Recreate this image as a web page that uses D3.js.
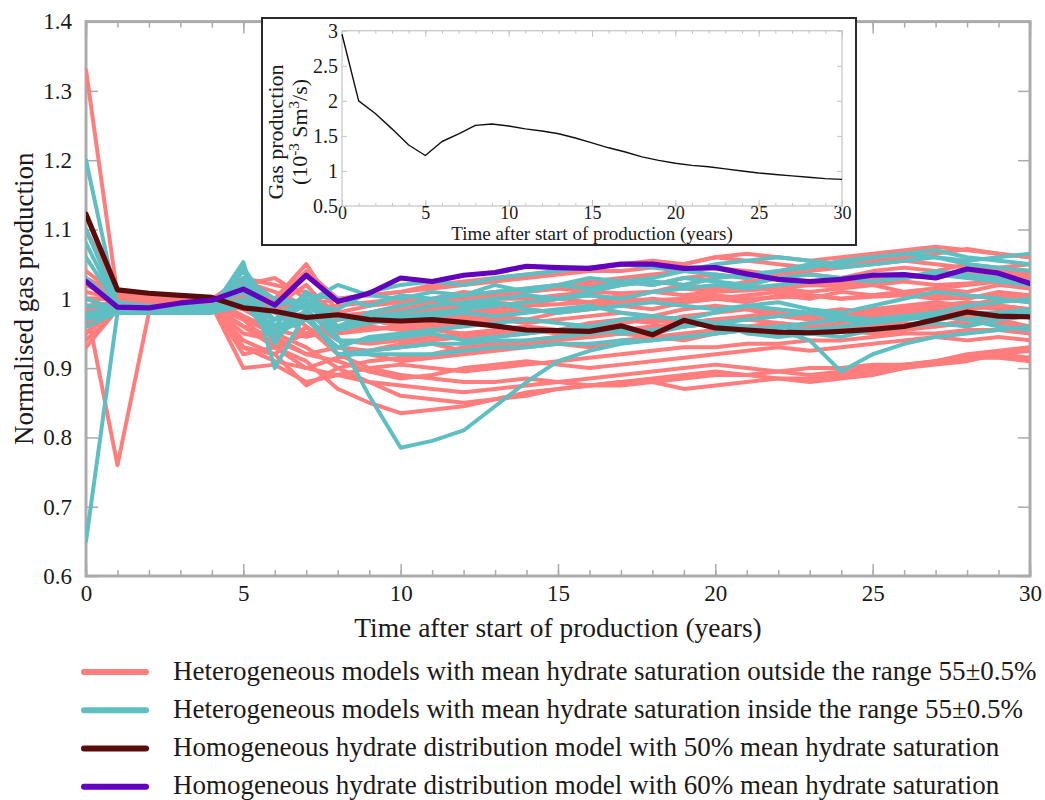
<!DOCTYPE html>
<html>
<head>
<meta charset="utf-8">
<script src="https://cdn.jsdelivr.net/npm/d3@7"></script>
<style>
  html, body { margin: 0; padding: 0; background: #fff; }
  svg text { font-family: "Liberation Serif", "Times New Roman", serif; fill: #1a1a1a; }
</style>
</head>
<body>
<script>
// ---- Data ---------------------------------------------------------------
const years = [0,1,2,3,4,5,6,7,8,9,10,11,12,13,14,15,16,17,18,19,20,21,22,23,24,25,26,27,28,29,30];

// Heterogeneous models, mean hydrate saturation outside 55±0.5%
const outsideRange = [
  [1.33,1.005,1.003,1.002,1.0,0.99,0.985,0.97,0.975,0.98,0.985,0.99,0.995,1.0,1.0,1.005,1.01,1.008,1.01,1.015,1.01,1.012,1.015,1.02,1.018,1.02,1.025,1.02,1.022,1.025,1.02],
  [0.99,0.76,0.98,0.985,0.99,0.97,0.93,0.95,0.96,0.965,0.97,0.975,0.98,0.985,0.99,0.992,0.995,1.0,0.998,1.0,1.005,1.0,1.002,1.005,1.0,1.003,1.005,1.0,1.002,1.005,1.0],
  [1.1,1.01,1.0,1.0,0.998,1.02,1.0,1.05,0.98,0.99,0.995,1.0,1.01,1.005,1.01,1.015,1.02,1.025,1.02,1.03,1.035,1.03,1.04,1.035,1.03,1.04,1.045,1.04,1.05,1.045,1.04],
  [0.94,0.985,0.98,0.985,0.99,0.90,0.905,0.88,0.89,0.9,0.905,0.9,0.895,0.9,0.905,0.91,0.915,0.92,0.925,0.93,0.93,0.935,0.935,0.94,0.94,0.945,0.95,0.95,0.955,0.955,0.95],
  [0.96,0.99,0.985,0.99,0.99,0.96,0.93,0.91,0.87,0.85,0.835,0.84,0.845,0.855,0.865,0.87,0.875,0.875,0.88,0.885,0.89,0.89,0.895,0.9,0.9,0.905,0.905,0.91,0.915,0.915,0.91],
  [0.97,0.995,0.99,0.99,0.995,0.93,0.92,0.875,0.9,0.88,0.86,0.855,0.85,0.855,0.86,0.87,0.875,0.88,0.88,0.87,0.875,0.88,0.885,0.885,0.89,0.895,0.9,0.905,0.91,0.92,0.915],
  [1.0,1.0,0.995,0.995,1.0,1.02,1.0,0.96,0.92,0.9,0.89,0.885,0.88,0.88,0.885,0.88,0.875,0.88,0.885,0.89,0.895,0.89,0.885,0.88,0.885,0.89,0.9,0.91,0.92,0.925,0.93],
  [1.02,1.0,1.0,1.0,1.0,1.03,1.02,1.01,0.98,0.97,0.96,0.955,0.95,0.945,0.95,0.955,0.96,0.965,0.97,0.965,0.97,0.975,0.98,0.975,0.97,0.975,0.98,0.985,0.99,0.985,0.98],
  [0.985,0.995,0.99,0.99,0.995,1.025,1.01,0.99,1.0,1.005,1.01,1.015,1.02,1.025,1.03,1.035,1.04,1.04,1.045,1.05,1.06,1.055,1.05,1.045,1.05,1.055,1.06,1.065,1.072,1.065,1.06],
  [1.03,1.005,1.0,0.998,1.0,1.01,0.99,1.02,0.97,0.975,0.98,0.985,0.99,0.995,0.99,1.0,1.005,1.0,1.01,1.02,1.015,1.025,1.03,1.02,1.025,1.03,1.035,1.03,1.04,1.035,1.03],
  [0.95,0.99,0.985,0.985,0.99,0.95,0.94,0.92,0.93,0.92,0.91,0.915,0.92,0.925,0.93,0.935,0.93,0.94,0.945,0.94,0.95,0.955,0.95,0.96,0.955,0.96,0.965,0.96,0.97,0.965,0.96],
  [0.98,1.0,0.995,0.995,1.0,0.99,0.97,0.98,0.95,0.955,0.96,0.965,0.97,0.975,0.97,0.98,0.985,0.99,0.985,0.995,1.0,0.995,1.005,1.0,1.01,1.005,1.01,1.015,1.01,1.02,1.015],
  [1.01,1.0,0.998,0.998,1.0,1.02,1.03,1.0,0.96,0.97,0.965,0.97,0.975,0.98,0.985,0.98,0.99,0.995,1.0,0.995,1.0,1.005,1.01,1.005,1.0,1.005,1.01,1.005,1.0,1.01,1.005],
  [0.99,0.995,0.99,0.99,0.995,0.97,0.95,0.93,0.9,0.91,0.915,0.92,0.93,0.935,0.94,0.945,0.95,0.955,0.96,0.965,0.97,0.97,0.975,0.98,0.985,0.98,0.985,0.99,0.995,0.99,0.985],
  [0.96,0.99,0.985,0.99,0.99,0.93,0.91,0.9,0.89,0.88,0.875,0.87,0.865,0.87,0.875,0.88,0.885,0.89,0.895,0.9,0.905,0.9,0.895,0.89,0.895,0.9,0.905,0.91,0.915,0.92,0.925],
  [1.0,1.0,0.998,0.998,1.0,1.005,0.985,0.995,0.975,0.98,0.99,0.995,1.0,1.005,1.01,1.015,1.01,1.02,1.025,1.02,1.03,1.035,1.03,1.025,1.02,1.025,1.03,1.035,1.04,1.045,1.05],
  [0.975,0.995,0.99,0.99,0.995,0.985,0.96,0.97,0.94,0.935,0.94,0.945,0.95,0.955,0.96,0.955,0.965,0.97,0.965,0.975,0.98,0.985,0.98,0.975,0.98,0.985,0.99,0.995,0.99,1.0,0.995],
  [1.04,1.005,1.0,1.0,1.0,1.015,1.0,0.985,0.99,0.995,1.0,0.995,1.005,1.01,1.015,1.02,1.025,1.03,1.035,1.04,1.045,1.04,1.035,1.04,1.045,1.05,1.055,1.05,1.045,1.04,1.035],
  [0.93,0.985,0.98,0.985,0.99,0.94,0.92,0.96,0.93,0.925,0.93,0.935,0.925,0.93,0.935,0.94,0.945,0.95,0.945,0.95,0.955,0.96,0.965,0.96,0.955,0.95,0.955,0.96,0.965,0.97,0.96],
  [0.97,0.995,0.99,0.99,0.995,1.0,0.98,0.95,0.97,0.975,0.97,0.98,0.985,0.99,0.995,1.0,0.995,1.005,1.01,1.005,1.01,1.02,1.015,1.01,1.015,1.02,1.01,1.015,1.02,1.025,1.02],
  [1.0,1.0,0.995,0.995,1.0,0.975,0.955,0.945,0.955,0.96,0.955,0.96,0.965,0.97,0.965,0.97,0.975,0.98,0.975,0.985,0.99,0.985,0.975,0.97,0.975,0.98,0.985,0.98,0.985,0.99,0.985],
  [0.95,0.99,0.985,0.985,0.99,0.96,0.945,0.92,0.91,0.895,0.885,0.89,0.9,0.905,0.91,0.905,0.9,0.905,0.91,0.915,0.92,0.925,0.93,0.925,0.93,0.935,0.94,0.945,0.94,0.945,0.94],
  [1.02,1.005,1.0,1.0,1.0,1.0,0.995,1.04,1.0,1.005,1.01,1.02,1.025,1.03,1.035,1.04,1.045,1.05,1.055,1.05,1.06,1.065,1.06,1.055,1.06,1.065,1.07,1.075,1.07,1.065,1.06],
  [0.965,0.99,0.985,0.99,0.99,0.92,0.93,0.9,0.915,0.925,0.935,0.94,0.945,0.95,0.955,0.95,0.945,0.95,0.955,0.96,0.965,0.97,0.965,0.96,0.965,0.97,0.975,0.97,0.975,0.98,0.975]
];

// Heterogeneous models, mean hydrate saturation inside 55±0.5%
const insideRange = [
  [0.65,0.98,0.98,0.98,0.985,1.0,0.97,0.99,0.96,0.97,0.975,0.98,0.985,0.99,0.995,1.0,1.005,1.0,1.01,1.015,1.02,1.015,1.02,1.025,1.03,1.025,1.03,1.035,1.03,1.025,1.02],
  [1.2,0.99,0.985,0.985,0.99,1.04,0.96,1.01,0.97,0.975,0.98,0.99,0.995,1.0,1.005,1.0,1.01,1.02,1.025,1.02,1.03,1.035,1.04,1.05,1.045,1.05,1.055,1.06,1.055,1.06,1.065],
  [1.1,0.995,0.99,0.99,0.99,1.02,0.95,1.0,0.945,0.86,0.785,0.795,0.81,0.845,0.88,0.91,0.925,0.935,0.94,0.945,0.95,0.955,0.96,0.955,0.96,0.965,0.97,0.975,0.97,0.975,0.98],
  [1.0,0.985,0.98,0.98,0.985,1.053,0.9,0.98,0.92,0.925,0.93,0.935,0.935,0.94,0.94,0.945,0.95,0.955,0.95,0.96,0.965,0.96,0.955,0.94,0.895,0.92,0.935,0.945,0.95,0.955,0.96],
  [0.97,0.98,0.98,0.98,0.98,0.99,0.96,0.975,0.92,0.92,0.92,0.92,0.925,0.93,0.93,0.935,0.935,0.94,0.94,0.945,0.95,0.955,0.96,0.965,0.97,0.97,0.975,0.975,0.98,0.98,0.985],
  [0.98,0.985,0.98,0.98,0.985,1.03,1.0,0.995,1.02,1.005,1.0,1.01,1.005,1.02,1.01,1.02,1.03,1.025,1.03,1.04,1.035,1.03,1.04,1.045,1.055,1.06,1.065,1.06,1.05,1.045,1.04],
  [1.03,0.99,0.985,0.985,0.99,1.01,0.97,1.005,1.0,0.99,1.005,1.0,0.99,0.995,0.985,0.98,0.985,0.99,0.995,0.99,0.985,0.99,0.995,0.985,0.98,0.99,1.0,1.01,1.005,1.0,0.995],
  [0.96,0.98,0.98,0.98,0.98,1.0,0.95,0.97,0.93,0.945,0.95,0.955,0.96,0.965,0.97,0.965,0.96,0.97,0.975,0.97,0.965,0.97,0.975,0.98,0.97,0.965,0.97,0.975,0.97,0.96,0.955],
  [1.06,0.99,0.985,0.985,0.99,1.045,0.98,0.99,0.985,1.01,1.02,1.025,1.02,1.03,1.035,1.04,1.045,1.05,1.045,1.04,1.05,1.055,1.06,1.055,1.05,1.06,1.065,1.07,1.06,1.055,1.05],
  [0.99,0.985,0.98,0.98,0.985,1.02,0.99,1.0,0.955,0.965,0.97,0.975,0.98,0.975,0.98,0.985,0.99,0.98,0.975,0.97,0.98,0.99,0.985,0.98,0.975,0.97,0.975,0.98,0.99,0.995,1.0],
  [1.08,0.99,0.985,0.985,0.99,1.03,0.935,1.01,0.96,0.98,0.99,1.0,1.005,1.01,1.015,1.02,1.015,1.025,1.02,1.03,1.025,1.02,1.03,1.035,1.03,1.035,1.03,1.04,1.035,1.03,1.025],
  [0.975,0.98,0.98,0.98,0.98,0.995,0.94,0.985,0.94,0.94,0.945,0.95,0.94,0.945,0.95,0.955,0.96,0.95,0.955,0.96,0.965,0.95,0.945,0.95,0.945,0.955,0.96,0.965,0.96,0.97,0.975]
];

// Homogeneous hydrate distribution models
const homogeneous50 = [1.122,1.013,1.008,1.005,1.002,0.987,0.982,0.973,0.977,0.970,0.968,0.970,0.966,0.961,0.955,0.954,0.953,0.961,0.948,0.969,0.958,0.955,0.952,0.951,0.953,0.956,0.960,0.970,0.981,0.975,0.974];
const homogeneous60 = [1.025,0.988,0.987,0.994,0.998,1.014,0.991,1.034,0.996,1.008,1.030,1.025,1.034,1.038,1.047,1.045,1.044,1.050,1.050,1.044,1.045,1.036,1.028,1.025,1.028,1.034,1.035,1.030,1.043,1.037,1.022];

// Inset: absolute gas production (10^-3 Sm^3/s)
const gasProduction = [2.95,2.0,1.82,1.6,1.37,1.22,1.42,1.53,1.65,1.67,1.64,1.6,1.57,1.53,1.47,1.4,1.33,1.27,1.2,1.15,1.11,1.08,1.06,1.03,1.0,0.97,0.95,0.93,0.91,0.89,0.88];

// Ticks
const xTicks = [0,5,10,15,20,25,30];
const xMinorTicks = years;
const yTicks = [0.6,0.7,0.8,0.9,1.0,1.1,1.2,1.3,1.4];
const insetYTicks = [0.5,1,1.5,2,2.5,3];

// Legend
const legendItems = [
  {label: "Heterogeneous models with mean hydrate saturation outside the range 55\u00B10.5%", color: "#ff7d7d"},
  {label: "Heterogeneous models with mean hydrate saturation inside the range 55\u00B10.5%", color: "#5ebfc3"},
  {label: "Homogeneous hydrate distribution model with 50% mean hydrate saturation", color: "#5a0c0c"},
  {label: "Homogeneous hydrate distribution model with 60% mean hydrate saturation", color: "#6202bd"}
];

// ---- Layout -------------------------------------------------------------
const W = 1045, H = 800;
const plot = {left: 86, right: 1030, top: 21.6, bottom: 576};
const inset = {boxL: 262, boxR: 856, boxT: 18, boxB: 245, left: 342, right: 842, top: 30.7, bottom: 206};
const axisGrey = "#ababab";

const svg = d3.select("body").append("svg").attr("width", W).attr("height", H);
svg.append("rect").attr("width", W).attr("height", H).attr("fill", "#fff");

const x = d3.scaleLinear().domain([0, 30]).range([plot.left, plot.right]);
const y = d3.scaleLinear().domain([0.6, 1.4]).range([plot.bottom, plot.top]);

function styleAxis(g, color, width, fontSize) {
  g.select(".domain").remove();
  g.selectAll(".tick line").attr("stroke", color).attr("stroke-width", width);
  g.selectAll(".tick text").attr("font-size", fontSize).attr("fill", "#1a1a1a")
    .attr("font-family", "Liberation Serif, Times New Roman, serif");
}

// Plot frame
svg.append("rect")
  .attr("x", plot.left).attr("y", plot.top)
  .attr("width", plot.right - plot.left).attr("height", plot.bottom - plot.top)
  .attr("fill", "none").attr("stroke", axisGrey).attr("stroke-width", 3);

// Ticks on all four sides, pointing inwards
const fmtY = d => String(+d.toFixed(1));
svg.append("g").attr("transform", `translate(0,${plot.bottom})`)
  .call(d3.axisBottom(x).tickValues(xMinorTicks).tickSize(-6).tickFormat(""))
  .call(g => styleAxis(g, axisGrey, 1.5, 0));
svg.append("g").attr("transform", `translate(0,${plot.bottom})`)
  .call(d3.axisBottom(x).tickValues(xTicks).tickSize(-12).tickPadding(9).tickFormat(d3.format("d")))
  .call(g => styleAxis(g, axisGrey, 1.5, 23));
svg.append("g").attr("transform", `translate(0,${plot.top})`)
  .call(d3.axisTop(x).tickValues(xMinorTicks).tickSize(-6).tickFormat(""))
  .call(g => styleAxis(g, axisGrey, 1.5, 0));
svg.append("g").attr("transform", `translate(0,${plot.top})`)
  .call(d3.axisTop(x).tickValues(xTicks).tickSize(-12).tickFormat(""))
  .call(g => styleAxis(g, axisGrey, 1.5, 0));
svg.append("g").attr("transform", `translate(${plot.left},0)`)
  .call(d3.axisLeft(y).tickValues(yTicks).tickSize(-12).tickPadding(14).tickFormat(fmtY))
  .call(g => styleAxis(g, axisGrey, 1.5, 23));
svg.append("g").attr("transform", `translate(${plot.right},0)`)
  .call(d3.axisRight(y).tickValues(yTicks).tickSize(-12).tickFormat(""))
  .call(g => styleAxis(g, axisGrey, 1.5, 0));

// Series lines
svg.append("clipPath").attr("id", "plot-clip").append("rect")
  .attr("x", plot.left).attr("y", plot.top)
  .attr("width", plot.right - plot.left).attr("height", plot.bottom - plot.top);

const line = d3.line().x((d, i) => x(years[i])).y(d => y(d));
const lines = svg.append("g").attr("clip-path", "url(#plot-clip)")
  .attr("fill", "none").attr("stroke-linejoin", "round").attr("stroke-linecap", "round");

lines.selectAll("path.outside").data(outsideRange).join("path")
  .attr("class", "outside").attr("d", line)
  .attr("stroke", legendItems[0].color).attr("stroke-width", 4);
lines.selectAll("path.inside").data(insideRange).join("path")
  .attr("class", "inside").attr("d", line)
  .attr("stroke", legendItems[1].color).attr("stroke-width", 4);
lines.append("path").datum(homogeneous50).attr("d", line)
  .attr("stroke", legendItems[2].color).attr("stroke-width", 5.2);
lines.append("path").datum(homogeneous60).attr("d", line)
  .attr("stroke", legendItems[3].color).attr("stroke-width", 5.2);

// Axis titles
svg.append("text")
  .attr("x", (plot.left + plot.right) / 2).attr("y", 637)
  .attr("text-anchor", "middle").attr("font-size", 27.5)
  .text("Time after start of production (years)");
svg.append("text")
  .attr("transform", `translate(33,${(plot.top + plot.bottom) / 2}) rotate(-90)`)
  .attr("text-anchor", "middle").attr("font-size", 27)
  .text("Normalised gas production");

// ---- Inset --------------------------------------------------------------
svg.append("rect")
  .attr("x", inset.boxL).attr("y", inset.boxT)
  .attr("width", inset.boxR - inset.boxL).attr("height", inset.boxB - inset.boxT)
  .attr("fill", "#fff").attr("stroke", "#2a2a2a").attr("stroke-width", 2);

const xi = d3.scaleLinear().domain([0, 30]).range([inset.left, inset.right]);
const yi = d3.scaleLinear().domain([0.5, 3]).range([inset.bottom, inset.top]);
const insetGrey = "#c4c4c4";

svg.append("rect")
  .attr("x", inset.left).attr("y", inset.top)
  .attr("width", inset.right - inset.left).attr("height", inset.bottom - inset.top)
  .attr("fill", "none").attr("stroke", insetGrey).attr("stroke-width", 1.2);

svg.append("g").attr("transform", `translate(0,${inset.bottom})`)
  .call(d3.axisBottom(xi).tickValues(xMinorTicks).tickSize(-3).tickFormat(""))
  .call(g => styleAxis(g, insetGrey, 1, 0));
svg.append("g").attr("transform", `translate(0,${inset.bottom})`)
  .call(d3.axisBottom(xi).tickValues(xTicks).tickSize(-6).tickPadding(0).tickFormat(d3.format("d")))
  .call(g => styleAxis(g, insetGrey, 1, 18));
svg.append("g").attr("transform", `translate(0,${inset.top})`)
  .call(d3.axisTop(xi).tickValues(xMinorTicks).tickSize(-3).tickFormat(""))
  .call(g => styleAxis(g, insetGrey, 1, 0));
svg.append("g").attr("transform", `translate(0,${inset.top})`)
  .call(d3.axisTop(xi).tickValues(xTicks).tickSize(-6).tickFormat(""))
  .call(g => styleAxis(g, insetGrey, 1, 0));
svg.append("g").attr("transform", `translate(${inset.left},0)`)
  .call(d3.axisLeft(yi).tickValues(insetYTicks).tickSize(-5).tickPadding(4).tickFormat(d => String(d)))
  .call(g => styleAxis(g, insetGrey, 1, 20));
svg.append("g").attr("transform", `translate(${inset.right},0)`)
  .call(d3.axisRight(yi).tickValues(insetYTicks).tickSize(-5).tickFormat(""))
  .call(g => styleAxis(g, insetGrey, 1, 0));

svg.append("path").datum(gasProduction)
  .attr("d", d3.line().x((d, i) => xi(years[i])).y(d => yi(d)))
  .attr("fill", "none").attr("stroke", "#111").attr("stroke-width", 1.4)
  .attr("stroke-linejoin", "round");

svg.append("text")
  .attr("x", (inset.left + inset.right) / 2).attr("y", 240)
  .attr("text-anchor", "middle").attr("font-size", 19)
  .text("Time after start of production (years)");

const insetTitle = svg.append("text")
  .attr("transform", `translate(283,132) rotate(-90)`)
  .attr("text-anchor", "middle").attr("font-size", 22);
insetTitle.append("tspan").attr("x", 0).attr("dy", 0).text("Gas production");
const line2 = insetTitle.append("tspan").attr("x", 0).attr("dy", 24);
line2.append("tspan").text("(10");
line2.append("tspan").attr("baseline-shift", "super").attr("font-size", 15).text("-3");
line2.append("tspan").text(" Sm");
line2.append("tspan").attr("baseline-shift", "super").attr("font-size", 15).text("3");
line2.append("tspan").text("/s)");

// ---- Legend -------------------------------------------------------------
const legend = svg.append("g");
const legendY = d3.scaleLinear().domain([0, 3]).range([672, 786.7]);
const entry = legend.selectAll("g").data(legendItems).join("g")
  .attr("transform", (d, i) => `translate(0,${legendY(i)})`);
entry.append("line").attr("x1", 84).attr("x2", 146)
  .attr("stroke", d => d.color).attr("stroke-width", 6).attr("stroke-linecap", "round");
entry.append("text").attr("x", 173).attr("y", 7.5)
  .attr("font-size", 27).text(d => d.label);
</script>
</body>
</html>
